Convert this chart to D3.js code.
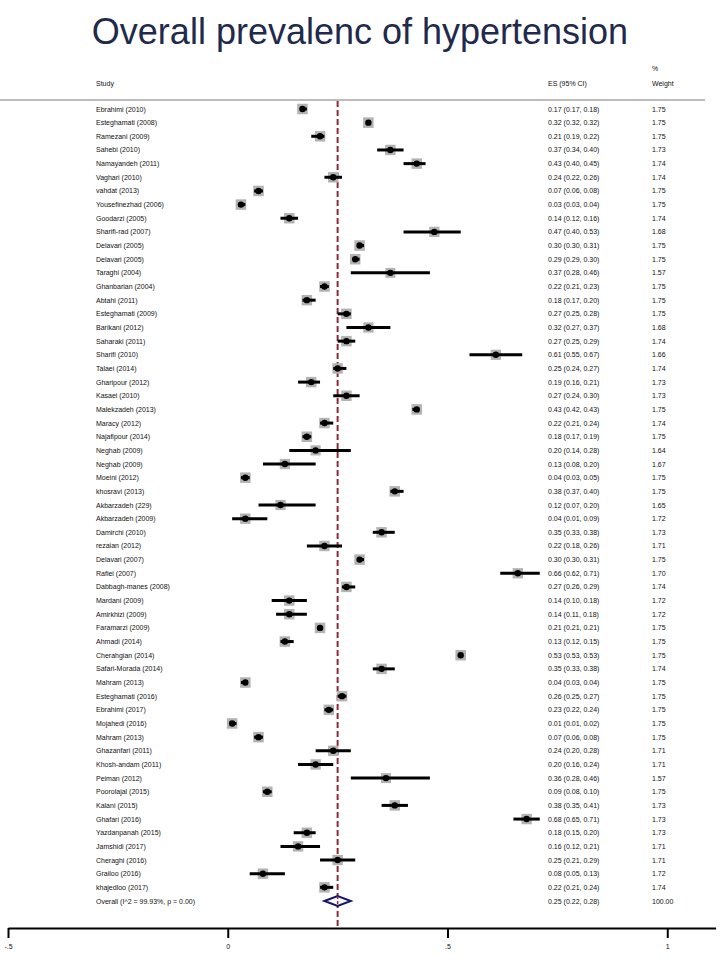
<!DOCTYPE html>
<html>
<head>
<meta charset="utf-8">
<script src="https://cdn.jsdelivr.net/npm/d3@7"></script>
<style>
  body { margin: 0; background: #fff; }
  svg text { font-family: "Liberation Sans", Arial, sans-serif; }
</style>
</head>
<body>
<svg id="forest" width="720" height="962"></svg>
<script>
const studies = ['Ebrahimi (2010)', 'Esteghamati (2008)', 'Ramezani (2009)', 'Sahebi (2010)', 'Namayandeh (2011)',
  'Vaghari (2010)', 'vahdat (2013)', 'Yousefinezhad (2006)', 'Goodarzi (2005)', 'Sharifi-rad (2007)',
  'Delavari (2005)', 'Delavari (2005)', 'Taraghi (2004)', 'Ghanbarian (2004)', 'Abtahi (2011)',
  'Esteghamati (2009)', 'Barikani (2012)', 'Saharaki (2011)', 'Sharifi (2010)', 'Talaei (2014)',
  'Gharipour (2012)', 'Kasaei (2010)', 'Malekzadeh (2013)', 'Maracy (2012)', 'Najafipour (2014)',
  'Neghab (2009)', 'Neghab (2009)', 'Moeini (2012)', 'khosravi (2013)', 'Akbarzadeh (229)',
  'Akbarzadeh (2009)', 'Damirchi (2010)', 'rezaian (2012)', 'Delavari (2007)', 'Rafiei (2007)',
  'Dabbagh-manes (2008)', 'Mardani (2009)', 'Amirkhizi (2009)', 'Faramarzi (2009)', 'Ahmadi (2014)',
  'Cherahgian (2014)', 'Safari-Morada (2014)', 'Mahram (2013)', 'Esteghamati (2016)', 'Ebrahimi (2017)',
  'Mojahedi (2016)', 'Mahram (2013)', 'Ghazanfari (2011)', 'Khosh-andam (2011)', 'Peiman (2012)',
  'Poorolajal (2015)', 'Kalani (2015)', 'Ghafari (2016)', 'Yazdanpanah (2015)', 'Jamshidi (2017)',
  'Cheraghi (2016)', 'Grailoo (2016)', 'khajedloo (2017)'];
const es = [0.17, 0.32, 0.21, 0.37, 0.43, 0.24, 0.07, 0.03, 0.14, 0.47, 0.30, 0.29, 0.37, 0.22, 0.18,
  0.27, 0.32, 0.27, 0.61, 0.25, 0.19, 0.27, 0.43, 0.22, 0.18, 0.20, 0.13, 0.04, 0.38, 0.12,
  0.04, 0.35, 0.22, 0.30, 0.66, 0.27, 0.14, 0.14, 0.21, 0.13, 0.53, 0.35, 0.04, 0.26, 0.23,
  0.01, 0.07, 0.24, 0.20, 0.36, 0.09, 0.38, 0.68, 0.18, 0.16, 0.25, 0.08, 0.22];
const lo = [0.17, 0.32, 0.19, 0.34, 0.40, 0.22, 0.06, 0.03, 0.12, 0.40, 0.30, 0.29, 0.28, 0.21, 0.17,
  0.25, 0.27, 0.25, 0.55, 0.24, 0.16, 0.24, 0.42, 0.21, 0.17, 0.14, 0.08, 0.03, 0.37, 0.07,
  0.01, 0.33, 0.18, 0.30, 0.62, 0.26, 0.10, 0.11, 0.21, 0.12, 0.53, 0.33, 0.03, 0.25, 0.22,
  0.01, 0.06, 0.20, 0.16, 0.28, 0.08, 0.35, 0.65, 0.15, 0.12, 0.21, 0.05, 0.21];
const hi = [0.18, 0.32, 0.22, 0.40, 0.45, 0.26, 0.08, 0.04, 0.16, 0.53, 0.31, 0.30, 0.46, 0.23, 0.20,
  0.28, 0.37, 0.29, 0.67, 0.27, 0.21, 0.30, 0.43, 0.24, 0.19, 0.28, 0.20, 0.05, 0.40, 0.20,
  0.09, 0.38, 0.26, 0.31, 0.71, 0.29, 0.18, 0.18, 0.21, 0.15, 0.53, 0.38, 0.04, 0.27, 0.24,
  0.02, 0.08, 0.28, 0.24, 0.46, 0.10, 0.41, 0.71, 0.20, 0.21, 0.29, 0.13, 0.24];
const weights = [1.75, 1.75, 1.75, 1.73, 1.74, 1.74, 1.75, 1.75, 1.74, 1.68, 1.75, 1.75, 1.57, 1.75, 1.75,
  1.75, 1.68, 1.74, 1.66, 1.74, 1.73, 1.73, 1.75, 1.74, 1.75, 1.64, 1.67, 1.75, 1.75, 1.65,
  1.72, 1.73, 1.71, 1.75, 1.70, 1.74, 1.72, 1.72, 1.75, 1.75, 1.75, 1.74, 1.75, 1.75, 1.75,
  1.75, 1.75, 1.71, 1.71, 1.57, 1.75, 1.73, 1.73, 1.73, 1.71, 1.71, 1.72, 1.74];
const overall = { label: 'Overall  (I^2 = 99.93%, p = 0.00)', es: 0.25, lo: 0.22, hi: 0.28, weight: '100.00' };
const tickValues = [-0.5, 0, 0.5, 1];
const tickLabels = ['-.5', '0', '.5', '1'];

const svg = d3.select('#forest');
const fmt = d3.format('.2f');

svg.append('text')
    .attr('x', 360)
    .attr('y', 44)
    .attr('text-anchor', 'middle')
    .attr('fill', '#1f2a4c')
    .style('font-size', '36px')
    .text('Overall prevalenc of hypertension');

const x = d3.scaleLinear().domain([-0.5, 1.11]).range([8, 715.6]);
const rows = studies.map((s, i) => i).concat([studies.length]);
const y = d3.scalePoint().domain(rows).range([109, 901]);
const side = d3.scaleSqrt().domain([0, 1.75]).range([0, 10.5]);

// header
const header = svg.append('g').style('font-size', '7px').attr('fill', '#111');
header.append('text').attr('x', 96).attr('y', 86).text('Study');
header.append('text').attr('x', 548).attr('y', 86).text('ES (95% CI)');
header.append('text').attr('x', 652).attr('y', 71).text('%');
header.append('text').attr('x', 652).attr('y', 86).text('Weight');

svg.append('line')
    .attr('x1', 0).attr('x2', 705)
    .attr('y1', 100).attr('y2', 100)
    .attr('stroke', '#bdbdbd')
    .attr('stroke-width', 2);

// reference line at the pooled estimate
svg.append('line')
    .attr('x1', x(overall.es)).attr('x2', x(overall.es))
    .attr('y1', 101).attr('y2', 927)
    .attr('stroke', '#8e2a36')
    .attr('stroke-width', 2)
    .attr('stroke-dasharray', '6,3');

const data = studies.map((s, i) => ({ i, s, es: es[i], lo: lo[i], hi: hi[i], w: weights[i] }));

const row = svg.append('g').selectAll('g')
  .data(data)
  .join('g')
    .attr('transform', (d) => `translate(0, ${y(d.i)})`);

row.append('rect')
    .attr('x', (d) => x(d.es) - side(d.w) / 2)
    .attr('y', (d) => -side(d.w) / 2)
    .attr('width', (d) => side(d.w))
    .attr('height', (d) => side(d.w))
    .attr('fill', '#b3b3b3');

row.append('line')
    .attr('x1', (d) => x(d.lo))
    .attr('x2', (d) => x(d.hi))
    .attr('stroke', '#000')
    .attr('stroke-width', 3);

row.append('circle')
    .attr('cx', (d) => x(d.es))
    .attr('r', 3.2)
    .attr('fill', '#000');

row.append('text')
    .attr('x', 96).attr('y', 2.5)
    .style('font-size', '7px')
    .attr('fill', '#111')
    .text((d) => d.s);

row.append('text')
    .attr('x', 548).attr('y', 2.5)
    .style('font-size', '7px')
    .attr('fill', '#111')
    .text((d) => `${fmt(d.es)} (${fmt(d.lo)}, ${fmt(d.hi)})`);

row.append('text')
    .attr('x', 652).attr('y', 2.5)
    .style('font-size', '7px')
    .attr('fill', '#111')
    .text((d) => fmt(d.w));

// overall row
const oy = y(studies.length);
const og = svg.append('g').attr('transform', `translate(0, ${oy})`);
og.append('path')
    .attr('d', `M${x(overall.lo)},0 L${x(overall.es)},-5 L${x(overall.hi)},0 L${x(overall.es)},5 Z`)
    .attr('fill', '#fff')
    .attr('stroke', '#14146b')
    .attr('stroke-width', 2);
og.append('line')
    .attr('x1', x(overall.es)).attr('x2', x(overall.es))
    .attr('y1', -5).attr('y2', 5)
    .attr('stroke', '#8e2a36')
    .attr('stroke-width', 1.5)
    .attr('stroke-dasharray', '3,2');
og.append('text').attr('x', 96).attr('y', 2.5).style('font-size', '7px').attr('fill', '#111').text(overall.label);
og.append('text').attr('x', 548).attr('y', 2.5).style('font-size', '7px').attr('fill', '#111')
    .text(`${fmt(overall.es)} (${fmt(overall.lo)}, ${fmt(overall.hi)})`);
og.append('text').attr('x', 652).attr('y', 2.5).style('font-size', '7px').attr('fill', '#111').text(overall.weight);

// x axis
const axis = svg.append('g')
    .attr('transform', 'translate(0, 928)')
    .call(d3.axisBottom(x)
      .tickValues(tickValues)
      .tickFormat((d, i) => tickLabels[i])
      .tickSize(10)
      .tickSizeOuter(0));
axis.select('.domain').attr('stroke', '#000').attr('stroke-width', 2);
axis.selectAll('.tick line').attr('stroke', '#000').attr('stroke-width', 2);
axis.selectAll('.tick text')
    .attr('y', 16)
    .attr('fill', '#111')
    .style('font-size', '7px')
    .style('font-family', '"Liberation Sans", Arial, sans-serif');
</script>
</body>
</html>
